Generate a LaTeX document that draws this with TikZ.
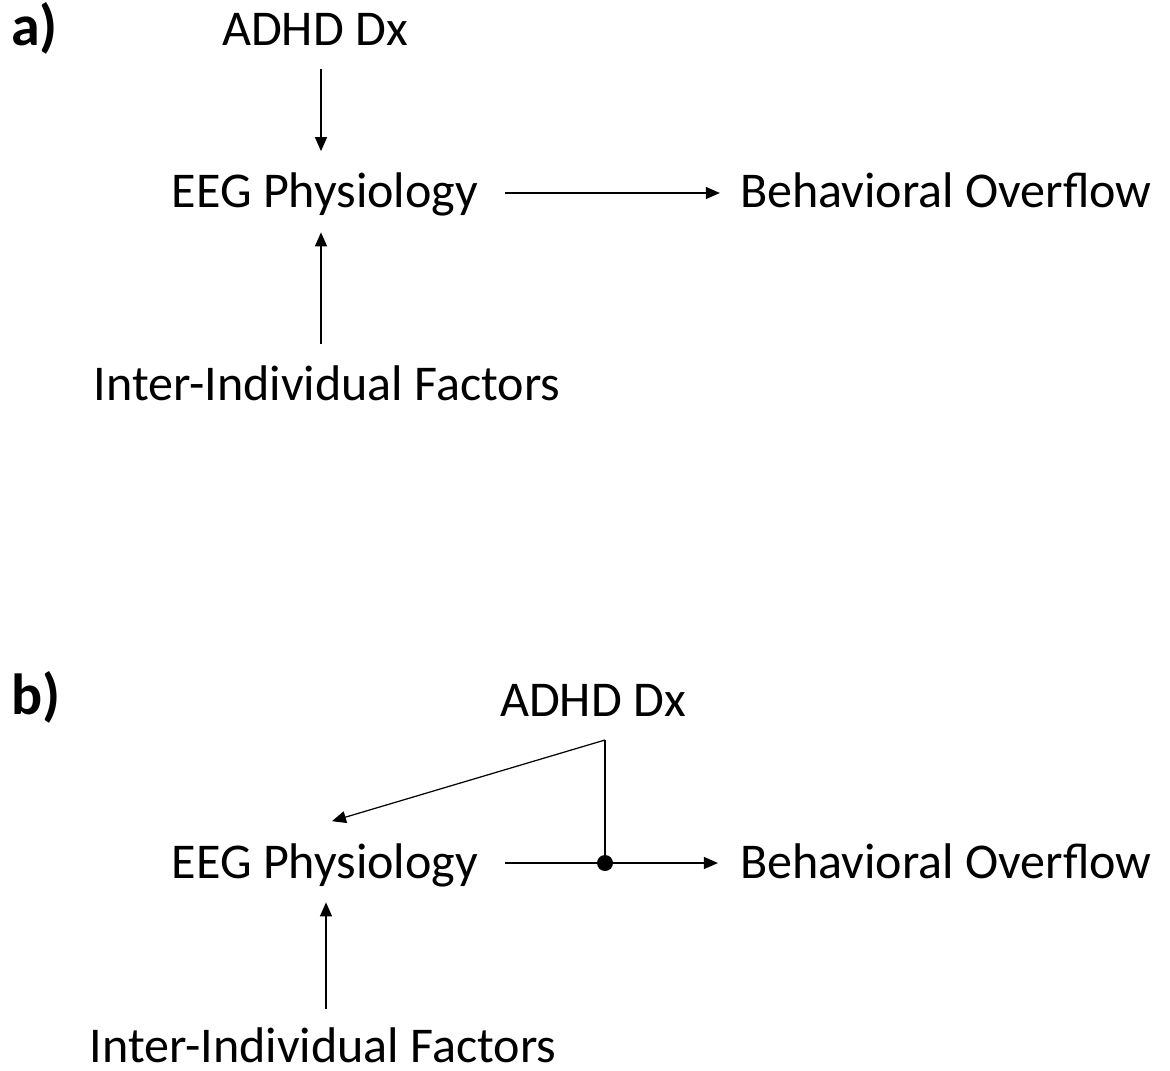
\documentclass[tikz,border=0pt]{standalone}
\usepackage{fontspec}
\setmainfont{Carlito}
\usetikzlibrary{arrows.meta,positioning,calc}

\begin{document}
\begin{tikzpicture}[x=0.02cm,y=-0.02cm,
  every node/.style={font=\fontsize{28.5}{34}\selectfont,inner sep=0pt,text height=0.63cm,text depth=0.03cm},
  panel/.style={anchor=base west,font=\fontsize{33}{38}\selectfont\bfseries},
  arr/.style={-{Triangle[length=0.28cm,width=0.24cm]},line width=0.7pt},
  link/.style={line width=0.7pt}]
  \useasboundingbox (0,0) rectangle (1170,1071);
  % panel a
  \node[panel] (labA) at (11,46) {a)};
  \node[anchor=base] (adhdA) at (315,46) {ADHD Dx};
  \node[anchor=base] (eegA) at (325,208) {EEG Physiology};
  \node[anchor=base] (interA) at (327,400) {Inter-Individual Factors};
  \node[anchor=base] (behA) at (946,208) {Behavioral Overflow};
  \coordinate (colA) at (321,0);
  \draw[arr,shorten <=0.43cm,shorten >=0.5cm] (adhdA.south -| colA) -- (eegA.north -| colA);
  \draw[arr,shorten <=0.48cm,shorten >=0.45cm] (interA.north -| colA) -- (eegA.south -| colA);
  \draw[arr,shorten <=0.54cm,shorten >=0.4cm] (eegA.east) -- (behA.west);
  % panel b
  \node[panel] (labB) at (11,714) {b)};
  \node[anchor=base] (adhdB) at (593,716) {ADHD Dx};
  \node[anchor=base] (eegB) at (325,878) {EEG Physiology};
  \node[anchor=base] (interB) at (323,1062) {Inter-Individual Factors};
  \node[anchor=base] (behB) at (946,878) {Behavioral Overflow};
  \coordinate (colB) at (326,0);
  \coordinate (split) at (605,740);
  \coordinate (junc) at (split |- eegB.east);
  \draw[link] (split) -- (junc);
  \draw[arr] (split) -- ([shift={(0.14cm,0.5cm)}]eegB.north);
  \draw[link,shorten <=0.54cm] (eegB.east) -- (junc);
  \draw[arr,shorten >=0.44cm] (junc) -- (behB.west);
  \fill (junc) circle (0.16cm);
  \draw[arr,shorten <=0.42cm,shorten >=0.45cm] (interB.north -| colB) -- (eegB.south -| colB);
\end{tikzpicture}
\end{document}
